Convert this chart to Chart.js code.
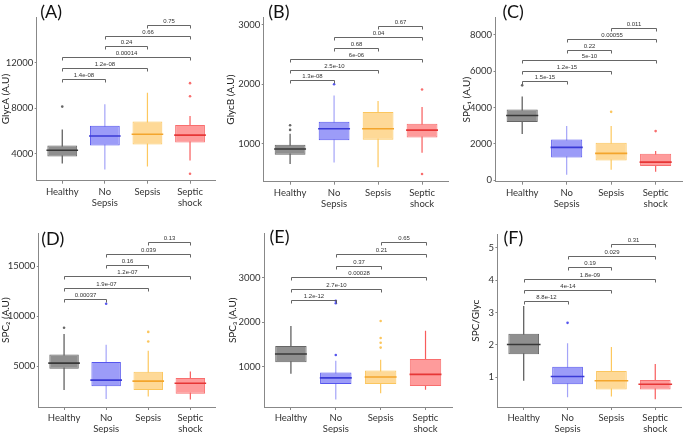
<!DOCTYPE html>
<html><head><meta charset="utf-8">
<script src="https://cdn.jsdelivr.net/npm/chart.js@4.4.1/dist/chart.umd.min.js"></script>
<style>
html,body{margin:0;padding:0;background:#fff;width:700px;height:433px;overflow:hidden;position:relative}
canvas{position:absolute}
</style></head><body>
<script>
const categories = ['Healthy', ['No','Sepsis'], 'Sepsis', ['Septic','shock']];
const pairs = [[0,1],[0,2],[0,3],[1,2],[1,3],[2,3]];

// each group: [lower whisker, Q1, median, Q3, upper whisker]
const glycA_box = [[3125,3740,4294,4716,6123],[2600,4716,5543,6441,8350],[2863,4795,5700,6815,9360],[3400,4986,5622,6520,7316]];
const glycA_out = [[8135],[],[],[10200,9040,2230]];
const glycA_p = ['1.4e-08','1.2e-08','0.00014','0.24','0.66','0.75'];
const glycA_py = [10553,11531,12509,13427,14340,15320];
const glycA_ticks = [4000,8000,12000];

const glycB_box = [[658,811,908,980,1165],[682,1057,1251,1369,1810],[600,1066,1251,1533,1718],[846,1103,1226,1333,1615]];
const glycB_out = [[1231,1308],[2000],[],[1912,487]];
const glycB_p = ['1.3e-08','2.5e-10','6e-06','0.68','0.04','0.67'];
const glycB_py = [2066,2246,2431,2610,2795,2985];
const glycB_ticks = [1000,2000,3000];

const spc1_box = [[2537,3199,3567,3895,4612],[299,1244,1806,2239,2985],[580,1078,1476,2056,2985],[464,780,995,1459,1609]];
const spc1_out = [[5224],[],[3765],[2703]];
const spc1_p = ['1.5e-15','1.2e-15','5e-10','0.22','0.00055','0.011'];
const spc1_py = [5438,6020,6617,7199,7796,8408];
const spc1_ticks = [0,2000,4000,6000,8000];

const spc2_box = [[2596,4740,5288,6154,8202],[1693,2981,3587,5413,7144],[1952,2596,3490,4440,6538],[1635,2212,3269,3808,4452]];
const spc2_out = [[8846],[11250],[8423,7461],[]];
const spc2_p = ['0.00037','1.9e-07','1.2e-07','0.16','0.039','0.13'];
const spc2_py = [11692,12846,14000,15153,16250,17403];
const spc2_ticks = [5000,10000,15000];

const spc3_box = [[839,1100,1283,1460,1913],[261,609,746,870,1130],[404,609,767,913,1152],[478,565,826,1172,1804]];
const spc3_out = [[],[1261,2420,2478],[2022,1643,1535,1426],[]];
const spc3_p = ['1.2e-12','2.7e-10','0.00028','0.37','0.21','0.65'];
const spc3_py = [2491,2746,3000,3267,3522,3790];
const spc3_ticks = [1000,2000,3000];

const ratio_box = [[0.89,1.71,2.01,2.34,3.20],[0.38,0.78,1.02,1.32,2.05],[0.40,0.62,0.89,1.19,1.93],[0.32,0.62,0.78,0.91,1.41]];
const ratio_out = [[],[2.68],[],[]];
const ratio_p = ['8.8e-12','4e-14','1.8e-09','0.19','0.029','0.31'];
const ratio_py = [3.37,3.70,4.04,4.41,4.75,5.11];
const ratio_ticks = [1,2,3,4,5];

const fillColors = ['#8f8f8f','#9c9cf8','#fed997','#fe9b9b'];
const boxLine = ['#666666','#5656ee','#fbc65e','#f86e6e'];
const medColors = ['#383838','#3a3ad6','#f3a52c','#e63636'];
const whiskColors = ['#555555','#a4a4f8','#fdc85e','#f85c5c'];

const panels = [
 {letter:'(A)', box:glycA_box, out:glycA_out, p:glycA_p, py:glycA_py, ticks:glycA_ticks, title:'GlycA (A.U)', min:1614, max:15984, cx:0, cy:0, cw:233, ch:216, L:36.7, R:226.5, T:0, B:180.7, lx:3.5, ly:12.5},
 {letter:'(B)', box:glycB_box, out:glycB_out, p:glycB_p, py:glycB_py, ticks:glycB_ticks, title:'GlycB (A.U)', min:358, max:3123, cx:225, cy:0, cw:241, ch:216, L:263.7, R:455.2, T:2, B:181.7, lx:4.5, ly:12.5},
 {letter:'(C)', box:spc1_box, out:spc1_out, p:spc1_p, py:spc1_py, ticks:spc1_ticks, title:'SPC\u2081 (A.U)', min:-85, max:8955, cx:461, cy:0, cw:239, ch:216, L:495.5, R:688.3, T:0, B:181.7, lx:7, ly:12.5},
 {letter:'(D)', box:spc2_box, out:spc2_out, p:spc2_p, py:spc2_py, ticks:spc2_ticks, title:'SPC\u2082 (A.U)', min:894, max:18297, cx:0, cy:216, cw:233, ch:217, L:38.8, R:228.4, T:226, B:407, lx:2.5, ly:23.5},
 {letter:'(E)', box:spc3_box, out:spc3_out, p:spc3_p, py:spc3_py, ticks:spc3_ticks, title:'SPC\u2083 (A.U)', min:93, max:3985, cx:227, cy:216, cw:243, ch:217, L:264, R:455.6, T:228, B:407, lx:5.5, ly:20.7},
 {letter:'(F)', box:ratio_box, out:ratio_out, p:ratio_p, py:ratio_py, ticks:ratio_ticks, title:'SPC/Glyc', min:0.077, max:5.416, cx:470, cy:216, cw:230, ch:217, L:497.4, R:699.4, T:226, B:407, lx:6, ly:21.7}
];

const FONT = 'Lato, "Open Sans", "Liberation Sans", sans-serif';

const annot = {
  id:'annot',
  afterDatasetsDraw(chart, args, opts){
    const {ctx} = chart; const x = chart.scales.x, y = chart.scales.y;
    ctx.save();
    ctx.strokeStyle = '#555'; ctx.lineWidth = 0.9; ctx.fillStyle = '#333';
    ctx.font = '6px "Liberation Sans", Arial, sans-serif';
    ctx.textAlign = 'center'; ctx.textBaseline = 'bottom';
    opts.py.forEach((v,k)=>{
      const [i,j] = pairs[k];
      const x1 = Math.round(x.getPixelForValue(i))+0.5, x2 = Math.round(x.getPixelForValue(j))+0.5;
      const yy = Math.round(y.getPixelForValue(v))+0.5;
      ctx.beginPath(); ctx.moveTo(x1,yy+3); ctx.lineTo(x1,yy); ctx.lineTo(x2,yy); ctx.lineTo(x2,yy+3); ctx.stroke();
      ctx.fillText(opts.p[k], (x1+x2)/2, yy-1.5);
    });
    ctx.font = '18px ' + FONT; ctx.fillStyle = '#111'; ctx.textAlign = 'left'; ctx.textBaseline = 'middle';
    ctx.fillText(opts.letter, chart.chartArea.left + opts.lx, opts.ly);
    ctx.restore();
  }
};

panels.forEach(P=>{
  const cv = document.createElement('canvas');
  cv.width = P.cw; cv.height = P.ch;
  cv.style.left = P.cx+'px'; cv.style.top = P.cy+'px';
  cv.style.width = P.cw+'px'; cv.style.height = P.ch+'px';
  document.body.appendChild(cv);
  const spacing = (P.R - P.L)/4.2;
  const outPts = [], outCols = [];
  P.out.forEach((arr,i)=>arr.forEach(v=>{ outPts.push({x:i,y:v}); outCols.push(boxLine[i]); }));
  new Chart(cv.getContext('2d'), {
    type:'bar',
    data:{ datasets:[
      {type:'bar', data:P.box.map((b,i)=>({x:i,y:[b[0],b[4]]})), backgroundColor:whiskColors,
        borderWidth:0, grouped:false, maxBarThickness:1.2, barPercentage:0.05, categoryPercentage:1, order:3},
      {type:'bar', data:P.box.map((b,i)=>({x:i,y:[b[1],b[3]]})), backgroundColor:fillColors, borderColor:boxLine,
        borderWidth:1, borderSkipped:false, grouped:false, barPercentage:0.7, categoryPercentage:1, order:2},
      {type:'scatter', data:P.box.map((b,i)=>({x:i,y:b[2]})), pointStyle:'line', pointRadius:spacing*0.35,
        pointBorderColor:medColors, pointBorderWidth:1.6, order:1},
      {type:'scatter', data:outPts, pointStyle:'circle', pointRadius:1.3, pointBackgroundColor:outCols,
        pointBorderColor:outCols, pointBorderWidth:0, order:0}
    ]},
    options:{
      responsive:false, animation:false, events:[],
      layout:{padding:{left:0, top:P.T-P.cy, right:P.cx+P.cw-P.R, bottom:0}},
      plugins:{legend:{display:false}, tooltip:{enabled:false}, annot:{py:P.py, p:P.p, letter:P.letter, lx:P.lx, ly:P.ly}},
      scales:{
        x:{type:'linear', min:-0.6, max:3.6, offset:false,
          afterBuildTicks:s=>{ s.ticks = categories.map((c,i)=>({value:i})); },
          afterFit:s=>{ s.height = P.ch - (P.B - P.cy); s.paddingLeft = 0; s.paddingRight = 0; },
          grid:{offset:false, drawOnChartArea:false, drawTicks:true, tickLength:3, color:'#888'},
          border:{display:true, color:'#888', width:1},
          ticks:{callback:v=>categories[v], autoSkip:false, maxRotation:0, padding:2.5, color:'#333',
            font:{family:FONT, size:9.5, lineHeight:1.15}}
        },
        y:{type:'linear', min:P.min, max:P.max,
          afterBuildTicks:s=>{ s.ticks = P.ticks.map(v=>({value:v})); },
          afterFit:s=>{ s.width = P.L - P.cx; s.paddingTop = 0; s.paddingBottom = 0; },
          grid:{drawOnChartArea:false, drawTicks:true, tickLength:2, color:'#888'},
          border:{display:true, color:'#888', width:1},
          ticks:{callback:v=>String(v), padding:1.5, color:'#333', font:{family:FONT, size:9.5}},
          title:{display:true, text:P.title, color:'#222', padding:{top:0,bottom:0}, font:{family:FONT, size:10}}
        }
      }
    },
    plugins:[annot]
  });
});
</script>
</body></html>
